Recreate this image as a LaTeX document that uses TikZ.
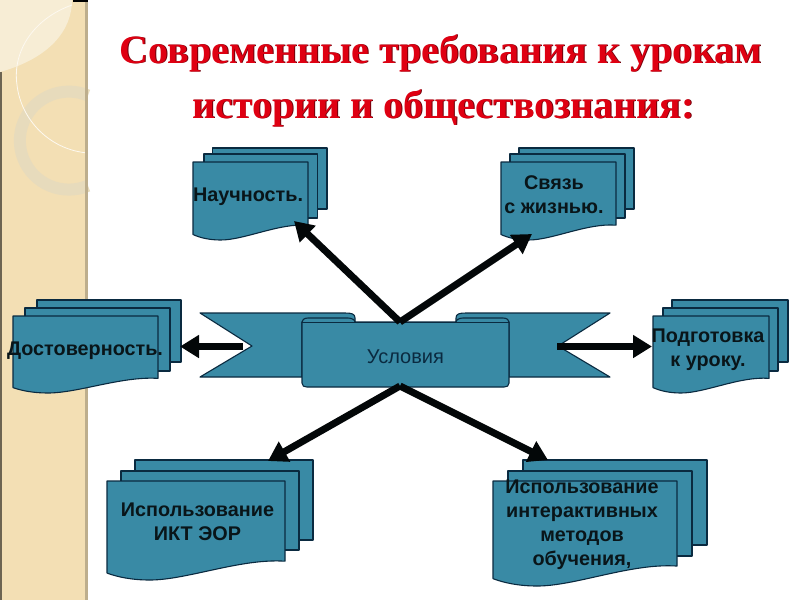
\documentclass[tikz,border=0pt]{standalone}
\usepackage{fontspec}
\setmainfont{Liberation Sans}
\newfontfamily\titlefont{Liberation Serif}[Scale=1]
\definecolor{teal1}{HTML}{398AA5}
\definecolor{line1}{HTML}{0A2A40}
\definecolor{tan1}{HTML}{F3DFB4}
\definecolor{tan2}{HTML}{E7DBBC}
\definecolor{tan3}{HTML}{F7EDD5}
\definecolor{title1}{HTML}{DF0012}
\definecolor{title2}{HTML}{70000A}
\usetikzlibrary{arrows.meta}
\tikzset{
  sheet/.style={fill=teal1,draw=line1,line width=1.1pt,line join=round},
  lbl/.style={font=\fontsize{19.8}{24}\selectfont\bfseries,text=black!85!teal1,align=center,inner sep=0pt},
  ttl/.style={font=\titlefont\fontsize{40}{44}\selectfont\bfseries,inner sep=0pt},
  bigarrow/.style={draw=black!95!teal1,line width=7pt,-{Triangle[length=19pt,width=22pt]}},
}
\newcommand{\sheetrect}[4]{\draw[sheet] (#1,#2) rectangle (#3,#4);}
\newcommand{\frontsheet}[4]{%
  \pgfmathsetmacro{\wid}{#3-#1}\pgfmathsetmacro{\hgt}{#4-#2}
  \draw[sheet] (#1,#2) -- (#3,#2) -- (#3,{#2+0.81*\hgt})
    .. controls ({#3-0.25*\wid},{#2+0.78*\hgt}) and ({#1+0.45*\wid},{#2+1.0*\hgt}) .. ({#1+0.24*\wid},#4)
    .. controls ({#1+0.14*\wid},#4) and ({#1+0.06*\wid},{#2+0.97*\hgt}) .. (#1,{#2+0.93*\hgt}) -- cycle;}
\begin{document}
\begin{tikzpicture}[x=1pt,y=-1pt]
\useasboundingbox (0,0) rectangle (800,600);
\fill[white] (0,0) rectangle (800,600);
% side band
\fill[tan1] (0,0) rectangle (88,600);
\fill[tan3] (0,0) -- (72,0) .. controls (72,30) and (50,58) .. (0,72) -- cycle;
\draw[tan2,line width=12pt] (88,95.5) arc[start angle=-67,end angle=-293,radius=49];
\draw[white!80!tan1,line width=.8pt] (72,5) .. controls (35,18) and (12,50) .. (17,85) .. controls (21,120) and (50,150) .. (88,153);
\fill[black!55!tan1] (0,72) rectangle (1.5,600);
\fill[black!22!tan1] (85,0) rectangle (88,600);
\fill[black] (73,0) rectangle (88,2);
% title
\node[ttl,text=title2] at (441.8,53.8) {Современные требования к урокам};
\node[ttl,text=title2] at (444.3,108.8) {истории и обществознания:};
\node[ttl,text=title1] (t1) at (441,53) {Современные требования к урокам};
\node[ttl,text=title1] (t2) at (443.5,108) {истории и обществознания:};
% ribbon
\draw[sheet] (302,377) -- (200,377) -- (252,346) -- (200,313) -- (345,313) .. controls (352,313) and (355,314) .. (355,318) -- (355,322) -- (302,322) -- cycle;
\draw[sheet] (509,377) -- (610,377) -- (558,346) -- (610,313) -- (466,313) .. controls (459,313) and (456,314) .. (456,318) -- (456,322) -- (509,322) -- cycle;
\draw[sheet] (302,322) .. controls (302,320) and (304,318) .. (308,318) -- (348,318) .. controls (352,318) and (355,320) .. (355,322) -- (456,322) .. controls (456,320) and (459,318) .. (463,318) -- (503,318) .. controls (507,318) and (509,320) .. (509,322)
 -- (509,383) .. controls (509,386) and (507,387) .. (504,387) -- (307,387) .. controls (304,387) and (302,386) .. (302,383) -- cycle;
\draw[line1,line width=.8pt] (302,322) -- (509,322);
\node[font=\fontsize{20}{22}\selectfont,text=line1,inner sep=0pt] (c) at (405.5,356.5) {Условия};
\coordinate (hubT) at (400,322);
\coordinate (hubB) at (400,386);
\coordinate (hubL) at (243,346.5);
\coordinate (hubR) at (557,346.5);
% top-left doc
\sheetrect{212.5}{148}{327}{209}
\sheetrect{204}{154}{317.5}{218}
\frontsheet{193}{162}{308}{240}
\node[lbl] (a) at (248,197) {Научность.};
% top-right doc
\sheetrect{519}{148}{634}{209}
\sheetrect{510}{154}{625}{218}
\frontsheet{501}{162}{616}{240}
\node[lbl] (b) at (554,195) {Связь\\с жизнью.};
% left doc
\sheetrect{37}{300}{181}{362}
\sheetrect{25}{308}{170}{371}
\frontsheet{13}{316}{158}{393}
\node[lbl] (d) at (85,350.5) {Достоверность.};
% right doc
\sheetrect{672}{300}{788}{362}
\sheetrect{663}{308}{778}{371}
\frontsheet{653}{316}{769}{393}
\node[lbl] (e) at (708,349.5) {Подготовка\\к уроку.};
% bottom-left doc
\sheetrect{135}{460}{313}{540}
\sheetrect{121}{471}{299}{550}
\frontsheet{107}{481}{285}{580}
\node[lbl] (f) at (197.5,521.5) {Использование\\ИКТ ЭОР};
% bottom-right doc
\sheetrect{523}{460}{707}{545}
\sheetrect{508}{471}{692}{556}
\frontsheet{493}{481}{677}{586}
\node[lbl] (g) at (582,525) {Использование\\интерактивных\\методов\\обучения,};
% arrows
\coordinate (ta) at (294,221);
\coordinate (tb) at (532,234);
\coordinate (td) at (180,346.5);
\coordinate (te) at (652,346.5);
\coordinate (tf) at (268,461);
\coordinate (tg) at (548,460);
\draw[bigarrow] (hubT) -- (ta);
\draw[bigarrow] (hubT) -- (tb);
\draw[bigarrow] (hubL) -- (td);
\draw[bigarrow] (hubR) -- (te);
\draw[bigarrow] (hubB) -- (tf);
\draw[bigarrow] (hubB) -- (tg);
\end{tikzpicture}
\end{document}
